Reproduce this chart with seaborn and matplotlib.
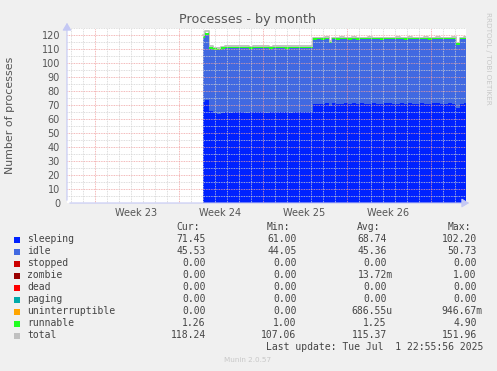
import re
import numpy as np
import pandas as pd
import matplotlib
matplotlib.use("Agg")
import matplotlib.pyplot as plt
import matplotlib.dates as mdates
import seaborn as sns

# ---------------- data ----------------
t_start = "2025-06-10 00:50"
t_end = "2025-07-01 22:55:56"

sleeping = [72.4, 73.5, 66.0, 64.2, 63.6, 64.4, 64.8, 64.6, 65.0, 64.7, 64.9, 64.6, 64.8, 65.0,
            64.7, 64.9, 64.6, 64.8, 65.1, 64.7, 64.9, 64.8, 64.6, 65.0, 64.8, 64.7, 65.1, 65.0,
            70.6, 71.0, 70.8, 71.2, 69.4, 71.1, 70.9, 71.0, 71.3, 70.9, 71.1, 70.8, 71.2, 71.0,
            70.9, 71.3, 71.0, 70.8, 71.1, 71.2, 70.9, 71.0, 71.3, 70.8, 71.1, 71.0, 70.9, 71.2,
            71.0, 70.8, 71.1, 71.3, 70.9, 71.0, 71.1, 70.9, 68.2, 71.0, 71.4]
idle = [45.6, 46.2, 44.3, 45.2, 45.5, 45.6, 45.7, 45.8, 45.4, 45.7, 45.6, 45.8, 45.5, 45.4,
        45.7, 45.6, 45.8, 45.5, 45.3, 45.7, 45.6, 45.5, 45.8, 45.4, 45.6, 45.7, 45.3, 45.5,
        46.0, 45.8, 45.9, 45.6, 44.6, 45.7, 45.8, 45.9, 45.5, 45.8, 45.7, 45.9, 45.6, 45.8,
        45.9, 45.5, 45.8, 45.9, 45.7, 45.6, 45.9, 45.8, 45.5, 45.9, 45.7, 45.8, 45.9, 45.6,
        45.8, 45.9, 45.7, 45.5, 45.9, 45.8, 45.7, 45.9, 44.9, 45.8, 45.5]
runnable = [1.5, 1.6, 1.3, 1.2, 1.2, 1.3, 1.2, 1.2, 1.3, 1.2, 1.2, 1.3, 1.2, 1.2,
            1.3, 1.2, 1.2, 1.2, 1.3, 1.2, 1.2, 1.3, 1.2, 1.2, 1.2, 1.3, 1.2, 1.2,
            1.3, 1.2, 1.2, 1.3, 1.2, 1.2, 1.2, 1.3, 1.2, 1.2, 1.3, 1.2, 1.2, 1.2,
            1.3, 1.2, 1.2, 1.3, 1.2, 1.2, 1.2, 1.3, 1.2, 1.2, 1.3, 1.2, 1.2, 1.2,
            1.3, 1.2, 1.2, 1.3, 1.2, 1.2, 1.2, 1.3, 1.2, 1.2, 1.3]
total = [119.8, 123.0, 112.0, 110.8, 110.4, 111.5, 111.9, 111.8, 111.9, 111.8, 111.9, 111.9, 111.7, 111.8,
         111.9, 111.9, 111.8, 111.7, 111.9, 111.8, 111.9, 111.8, 111.8, 111.8, 111.8, 111.9, 111.8, 111.9,
         118.1, 118.2, 118.1, 118.3, 115.4, 118.2, 118.1, 118.4, 118.2, 118.1, 118.3, 118.1, 118.2, 118.2,
         118.3, 118.2, 118.2, 118.2, 118.2, 118.2, 118.2, 118.3, 118.2, 118.1, 118.3, 118.2, 118.2, 118.2,
         118.3, 118.1, 118.2, 118.3, 118.2, 118.2, 118.2, 118.3, 114.5, 118.2, 118.4]

week_labels = ["Week 23", "Week 24", "Week 25", "Week 26"]
week_label_pos = ["2025-06-04 12:00", "2025-06-11 12:00", "2025-06-18 12:00", "2025-06-25 12:00"]
week_lines = ["2025-06-01", "2025-06-08", "2025-06-15", "2025-06-22", "2025-06-29"]
view_start = "2025-05-29 16:54"

legend_names = ["sleeping", "idle", "stopped", "zombie", "dead", "paging",
                "uninterruptible", "runnable", "total"]
legend_colors = ["#0022ff", "#4169e1", "#cc0000", "#990000", "#ff0000", "#00aaaa",
                 "#ffa500", "#22ff22", "#c0c0c0"]
cur_vals = ["71.45", "45.53", "0.00", "0.00", "0.00", "0.00", "0.00", "1.26", "118.24"]
min_vals = ["61.00", "44.05", "0.00", "0.00", "0.00", "0.00", "0.00", "1.00", "107.06"]
avg_vals = ["68.74", "45.36", "0.00", "13.72m", "0.00", "0.00", "686.55u", "1.25", "115.37"]
max_vals = ["102.20", "50.73", "0.00", "1.00", "0.00", "0.00", "946.67m", "4.90", "151.96"]

# ---------------- figure ----------------
W, H = 497, 371
sns.set_style("white")
plt.rcParams["font.family"] = ["DejaVu Sans"]
fig = plt.figure(figsize=(W / 100, H / 100), dpi=100, facecolor="#f0f0f0")


def px(x, y):
    return x / W, 1 - y / H


L, R, T, B = 67, 466, 28, 203
ax = fig.add_axes([L / W, 1 - B / H, (R - L) / W, (B - T) / H])
ax.set_facecolor("white")

times = pd.date_range(t_start, t_end, periods=len(sleeping))
df = pd.DataFrame({"time": times, "sleeping": sleeping, "idle": idle,
                   "runnable": runnable, "total": total})
x = mdates.date2num(df["time"])

s1 = df["sleeping"].to_numpy()
s2 = s1 + df["idle"].to_numpy()
s3 = s2 + df["runnable"].to_numpy()
sns.lineplot(x=x, y=df["total"], ax=ax, color="#b8c0b8", linewidth=1.3, zorder=1.5,
             drawstyle="steps-mid")
ax.fill_between(x, 0, s1, step="mid", color=legend_colors[0], lw=0, zorder=2)
ax.fill_between(x, s1, s2, step="mid", color=legend_colors[1], lw=0, zorder=2)
ax.fill_between(x, s2, s3, step="mid", color=legend_colors[7], lw=0, zorder=2)

ax.set_xlim(mdates.date2num(pd.Timestamp(view_start)), mdates.date2num(pd.Timestamp(t_end)))
ax.set_ylim(0, 125)

# grid
grid_ls = (0, (1, 1))
yticks_major = np.arange(0, 121, 10)
for v in np.arange(5, 126, 10):
    ax.axhline(v, color="#d2d2d2", lw=0.6, ls=grid_ls, zorder=4)
for v in yticks_major[1:]:
    ax.axhline(v, color="#f0a0a0", lw=0.6, ls=grid_ls, zorder=4)
day_lines = pd.date_range("2025-05-30", "2025-07-01", freq="D")
week_nums = mdates.date2num(pd.to_datetime(week_lines))
for d in mdates.date2num(day_lines):
    if not np.any(np.isclose(d, week_nums)):
        ax.axvline(d, color="#d2d2d2", lw=0.6, ls=grid_ls, zorder=4)
for d in week_nums:
    ax.axvline(d, color="#f0a0a0", lw=0.6, ls=grid_ls, zorder=4)

for s in ax.spines.values():
    s.set_visible(False)

ax.set_yticks(yticks_major)
ax.set_yticklabels([str(v) for v in yticks_major], fontsize=7, color="#555555")
ax.set_xticks(week_nums)
ax.set_xticklabels([])
ax.tick_params(axis="y", length=2, width=0.6, color="#f0a0a0", pad=3)
ax.tick_params(axis="x", length=2, width=0.6, color="#f0a0a0", pad=2, direction="out")
ax.set_xlabel("")
ax.set_ylabel("")

for lab, pos in zip(week_labels, week_label_pos):
    ax.text(mdates.date2num(pd.Timestamp(pos)), -7.0, lab, ha="center", va="center",
            fontsize=7, color="#555555")

# axes lines with arrows
axis_col = "#c4c8f4"
fig.add_artist(matplotlib.patches.FancyArrowPatch(px(L, B), px(472, B), transform=fig.transFigure,
               arrowstyle="-|>,head_length=3,head_width=1.8", color=axis_col, lw=0.8,
               mutation_scale=1.5))
fig.add_artist(matplotlib.patches.FancyArrowPatch(px(L, B), px(L, 20), transform=fig.transFigure,
               arrowstyle="-|>,head_length=3,head_width=1.8", color=axis_col, lw=0.8,
               mutation_scale=1.5))

# titles
fig.text(*px(248, 19), "Processes - by month", ha="center", va="center",
         fontsize=9.2, color="#555555")
fig.text(*px(10, 115), "Number of processes", ha="center", va="center",
         rotation=90, fontsize=7.9, color="#555555")
fig.text(*px(488, 12), "RRDTOOL / TOBI OETIKER", ha="center", va="top",
         rotation=270, fontsize=5.2, color="#c8c8c8")

# legend table
mono = "DejaVu Sans Mono"
fs = 7
cw = 0.602 * fs * 100 / 72  # monospace advance in pixels
tc = "#444444"
hdr_y = 227.3
for xr, h in zip([199.5, 290.2, 380.5, 470.7], ["Cur:", "Min:", "Avg:", "Max:"]):
    fig.text(*px(xr - len(h) * cw, hdr_y), h, ha="left", va="center", family=mono,
             fontsize=fs, color=tc)

col_right = [205.7, 296.3, 386.7, 476.7]


def put_value(xr, y, s):
    num = re.match(r"^([0-9.]+)", s).group(1)
    fig.text(*px(xr - len(num) * cw, y), s, ha="left", va="center", family=mono,
             fontsize=fs, color=tc)


for i, name in enumerate(legend_names):
    y = 239.5 + 12.0 * i
    fig.add_artist(matplotlib.patches.Rectangle(px(14, y + 3), 6 / W, 6 / H,
                   transform=fig.transFigure, facecolor=legend_colors[i], edgecolor="none"))
    fig.text(*px(27, y), name, ha="left", va="center", family=mono, fontsize=fs, color=tc)
    for xr, vals in zip(col_right, [cur_vals, min_vals, avg_vals, max_vals]):
        put_value(xr, y, vals[i])

last = "Last update: Tue Jul  1 22:55:56 2025"
fig.text(*px(482.5 - len(last) * cw, 347.3), last, ha="left", va="center",
         family=mono, fontsize=fs, color=tc)
fig.text(*px(248, 360), "Munin 2.0.57", ha="center", va="center", fontsize=5.2, color="#c8c8c8")

fig.savefig("out.png", dpi=100, facecolor=fig.get_facecolor())
